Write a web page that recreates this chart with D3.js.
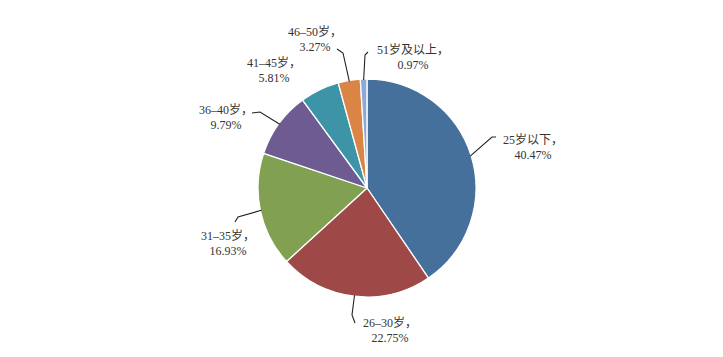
<!DOCTYPE html>
<html>
<head>
<meta charset="utf-8">
<script src="https://cdn.jsdelivr.net/npm/d3@7/dist/d3.min.js"></script>
<style>
html,body{margin:0;padding:0;background:#fff;}
svg text{font-family:"Liberation Serif","Times New Roman","Noto Sans CJK SC",serif;font-size:12px;fill:#333;}
</style>
</head>
<body>
<svg id="chart" width="723" height="357"></svg>
<script>
// ---- data ----
const categories = ["25岁以下", "26–30岁", "31–35岁", "36–40岁", "41–45岁", "46–50岁", "51岁及以上"];
const values = [40.47, 22.75, 16.93, 9.79, 5.81, 3.27, 0.97];
const valueLabels = ["40.47%", "22.75%", "16.93%", "9.79%", "5.81%", "3.27%", "0.97%"];
const colors = ["#44709b", "#9e4848", "#82a052", "#6d5b91", "#3c94a6", "#da8445", "#8da9d6"];

// ---- layout (label anchor positions and leader-line elbows, separate from data) ----
const labelPos = [[533,144],[390,327],[228,240],[226,114],[274,67],[315,36],[413,54]];
// leader elbow/end points relative to label anchor; null = no leader
const leaderRel = [
  [[-41,-7],[-37,-7]],
  [[-38,-12],[-35,-4]],
  [[10,-23],[7,-18]],
  [[34,-2],[26,-1]],
  null,
  [[28,17],[22,13]],
  [[-48,1],[-45,-2]]
];

const cx = 367, cy = 188, R = 109;
const svg = d3.select("#chart");
const g = svg.append("g").attr("transform", `translate(${cx},${cy})`);

const pie = d3.pie().sort(null).value(d => d)
  .startAngle(0).endAngle(2*Math.PI * d3.sum(values)/100);
const arcs = pie(values);
const arc = d3.arc().innerRadius(0).outerRadius(R);

g.selectAll("path.slice").data(arcs).enter().append("path")
  .attr("class","slice")
  .attr("d", arc)
  .attr("fill", (d,i) => colors[i])
  .attr("stroke", "#fff")
  .attr("stroke-width", 1.3)
  .attr("stroke-linejoin","round");

// leader lines
const line = d3.line();
arcs.forEach((d,i) => {
  if (!leaderRel[i]) return;
  const a = (d.startAngle + d.endAngle)/2;
  const sx = cx + Math.sin(a)*(R-1), sy = cy - Math.cos(a)*(R-1);
  const [lx, ly] = labelPos[i];
  const pts = [[sx,sy]].concat(leaderRel[i].map(p => [lx+p[0], ly+p[1]]));
  svg.append("path").attr("d", line(pts))
    .attr("fill","none").attr("stroke","#222").attr("stroke-width",1.1);
});

// labels
arcs.forEach((d,i) => {
  const [lx, ly] = labelPos[i];
  const t = svg.append("text").attr("text-anchor","middle");
  t.append("tspan").attr("x", lx).attr("y", ly).text(categories[i] + "，");
  t.append("tspan").attr("x", lx).attr("y", ly + 15).text(valueLabels[i]);
});
</script>
</body>
</html>
